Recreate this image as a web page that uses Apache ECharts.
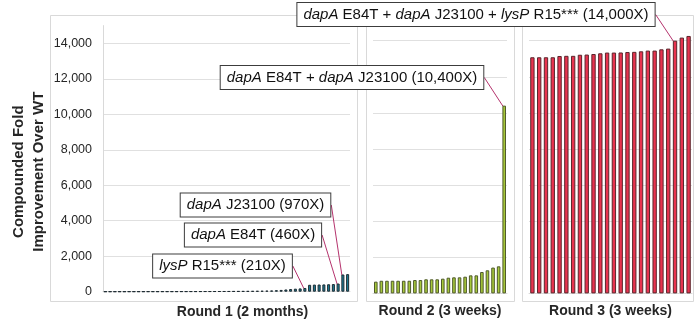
<!DOCTYPE html>
<html>
<head>
<meta charset="utf-8">
<script src="https://cdn.jsdelivr.net/npm/echarts@6/dist/echarts.min.js"></script>
<style>
  html, body { margin: 0; padding: 0; background: #ffffff; }
  #chart { width: 700px; height: 327px; }
</style>
</head>
<body>
<div id="chart"></div>
<script>
// Compounded fold improvement of each strain, sorted within each round
const round1 = [2, 3, 3, 4, 4, 5, 5, 6, 6, 7, 8, 8, 9, 10, 10, 11, 12, 13, 14, 15,
                16, 18, 19, 20, 22, 24, 26, 28, 30, 33, 36, 40, 45, 50, 60, 70, 85, 100, 125, 150,
                170, 185, 210, 390, 400, 405, 410, 420, 430, 460, 970, 990];
const round2 = [650, 700, 700, 700, 700, 700, 700, 740, 740, 780, 780, 780, 815, 870, 890, 890,
                925, 1000, 1000, 1185, 1280, 1430, 1500, 10400];
const round3 = [13080, 13080, 13080, 13080, 13150, 13160, 13160, 13220, 13230, 13260, 13300, 13340,
                13340, 13345, 13370, 13380, 13410, 13450, 13450, 13520, 13560, 14000, 14170, 14260];

const roundNames = ['Round 1 (2 months)', 'Round 2 (3 weeks)', 'Round 3 (3 weeks)'];
const yAxisTitle = 'Compounded Fold\nImprovement Over WT';
const yMax = 15000;
const yStep = 2000;

// Called-out strains: round, bar index, genotype (rich text, italic gene names)
const calloutRound = [0, 0, 0, 1, 2];
const calloutIndex = [42, 49, 50, 23, 21];
const calloutGenotype = [
  '{i|lysP} R15***',
  '{i|dapA} E84T',
  '{i|dapA} J23100',
  '{i|dapA} E84T + {i|dapA} J23100',
  '{i|dapA} E84T + {i|dapA} J23100 + {i|lysP} R15***'
];

// Where each callout box is centred on the canvas
const calloutCentre = [[222.5, 266], [253, 235], [255.5, 205], [352, 77.5], [476, 14.5]];

const FONT = '"Liberation Sans", Arial, Helvetica, sans-serif';
const rounds = [round1, round2, round3];
const fills = ['#1b7f9a', '#a6c83a', '#e8334f'];
const borders = ['#1d2a31', '#4f5a2a', '#5a262c'];

const grids = [
  { left: 103, width: 247, top: 25.6, height: 266.1 },
  { left: 373, width: 134, top: 22.6, height: 270.8 },
  { left: 529, width: 163, top: 22.6, height: 270.8 }
];

function fmt(v) { return v.toLocaleString('en-US'); }

const calloutLabelStyle = {
  show: true,
  position: 'top',
  fontFamily: FONT,
  fontSize: 15,
  color: '#111111',
  backgroundColor: '#ffffff',
  borderColor: '#3c3c3c',
  borderWidth: 1,
  padding: [4, 6, 4, 6],
  rich: { i: { fontStyle: 'italic', fontFamily: FONT, fontSize: 15, color: '#111111' } }
};

function seriesData(r) {
  return rounds[r].map((v, idx) => {
    for (let k = 0; k < calloutRound.length; k++) {
      if (calloutRound[k] === r && calloutIndex[k] === idx) {
        return {
          value: v,
          label: Object.assign({}, calloutLabelStyle, {
            formatter: calloutGenotype[k] + ' (' + fmt(v) + 'X)'
          })
        };
      }
    }
    return v;
  });
}

function layoutFor(r) {
  return function (params) {
    for (let k = 0; k < calloutRound.length; k++) {
      if (calloutRound[k] === r && calloutIndex[k] === params.dataIndex) {
        return { x: calloutCentre[k][0], y: calloutCentre[k][1], align: 'center', verticalAlign: 'middle' };
      }
    }
    return {};
  };
}

const chart = echarts.init(document.getElementById('chart'), null, { renderer: 'canvas' });

const option = {
  animation: false,
  backgroundColor: '#ffffff',
  textStyle: { fontFamily: FONT },
  graphic: [
    { type: 'rect', z: -10, silent: true, shape: { x: 50.5, y: 15.5, width: 307, height: 286 }, style: { fill: null, stroke: '#d9d9d9', lineWidth: 1 } },
    { type: 'rect', z: -10, silent: true, shape: { x: 366.5, y: 15.5, width: 148, height: 286 }, style: { fill: null, stroke: '#d9d9d9', lineWidth: 1 } },
    { type: 'rect', z: -10, silent: true, shape: { x: 522.5, y: 15.5, width: 171, height: 286 }, style: { fill: null, stroke: '#d9d9d9', lineWidth: 1 } }
  ],
  grid: grids.map(g => Object.assign({ containLabel: false, outerBoundsMode: 'none' }, g)),
  xAxis: rounds.map((data, r) => ({
    type: 'category',
    gridIndex: r,
    data: data.map((_, i) => String(i + 1)),
    axisLine: { show: true, lineStyle: { color: '#d9d9d9', width: 1 } },
    axisTick: { show: false },
    axisLabel: { show: false },
    splitLine: { show: false },
    name: roundNames[r],
    nameLocation: 'middle',
    nameGap: r === 0 ? 13 : 11,
    nameMoveOverlap: false,
    nameTextStyle: {
      fontFamily: FONT, fontWeight: 'bold', fontSize: 14, color: '#262626',
      padding: r === 0 ? [0, 0, 0, 32] : [0, 0, 0, 0]
    }
  })),
  yAxis: rounds.map((_, r) => ({
    type: 'value',
    gridIndex: r,
    min: 0,
    max: yMax,
    interval: yStep,
    axisLine: { show: r === 0, lineStyle: { color: '#d9d9d9', width: 1 } },
    axisTick: { show: false },
    axisLabel: {
      show: r === 0,
      showMaxLabel: false,
      formatter: v => fmt(v),
      fontFamily: FONT, fontSize: 12.5, color: '#262626', margin: 11
    },
    splitLine: { show: true, showMaxLine: false, showMinLine: false, lineStyle: { color: '#e0e0e0', width: 1 } },
    name: r === 0 ? yAxisTitle : '',
    nameLocation: 'middle',
    nameRotate: 90,
    nameGap: 54,
    nameMoveOverlap: false,
    nameTextStyle: {
      fontFamily: FONT, fontWeight: 'bold', fontSize: 15, lineHeight: 20, color: '#262626',
      align: 'center', padding: [0, 26, 0, 0]
    }
  })),
  series: rounds.map((_, r) => ({
    type: 'bar',
    xAxisIndex: r,
    yAxisIndex: r,
    data: seriesData(r),
    barCategoryGap: '36%',
    clip: false,
    itemStyle: { color: fills[r], borderColor: borders[r], borderWidth: 1 },
    label: { show: false },
    labelLine: { show: true, lineStyle: { color: '#b5336d', width: 1 } },
    labelLayout: layoutFor(r),
    emphasis: { disabled: true }
  }))
};

chart.setOption(option);
</script>
</body>
</html>
